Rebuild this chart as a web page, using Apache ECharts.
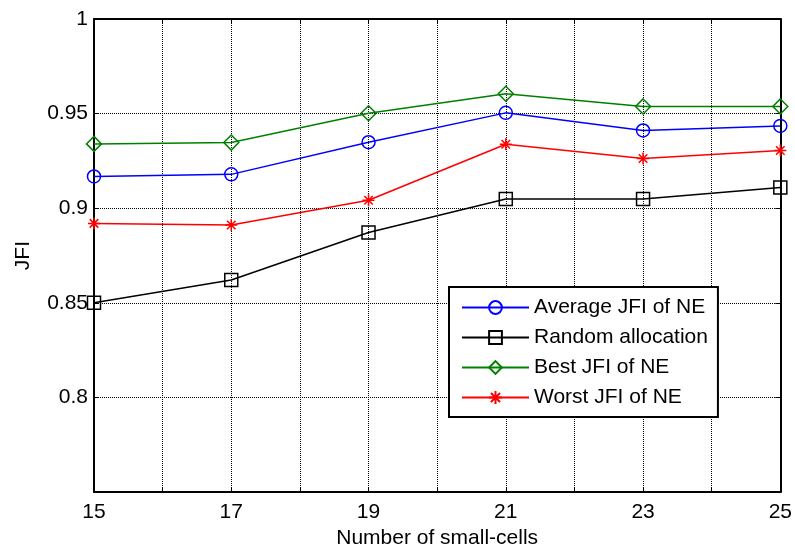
<!DOCTYPE html>
<html>
<head>
<meta charset="utf-8">
<script src="https://cdn.jsdelivr.net/npm/echarts@6/dist/echarts.min.js"></script>
<style>
  html, body { margin: 0; padding: 0; background: #fff; }
  #chart { width: 795px; height: 554px; }
</style>
</head>
<body>
<div id="chart"></div>
<script>
// Number of small-cells on the x axis
const smallCells = [15, 17, 19, 21, 23, 25];
const xTickLabels = [15, 17, 19, 21, 23, 25];
const yTickLabels = [0.8, 0.85, 0.9, 0.95, 1];

// Jain's fairness index per scheme
const averageNE = [0.9168, 0.9179, 0.9349, 0.9504, 0.9411, 0.9435];
const randomAlloc = [0.8500, 0.8621, 0.8872, 0.9049, 0.9049, 0.9110];
const bestNE = [0.9340, 0.9347, 0.9502, 0.9605, 0.9538, 0.9538];
const worstNE = [0.8920, 0.8911, 0.9042, 0.9338, 0.9263, 0.9305];

const FONT = 'Liberation Sans, Arial, sans-serif';
const FS = 21;
const ASTERISK = 'path://M0,-10L0,10M-10,0L10,0M-7.1,-7.1L7.1,7.1M-7.1,7.1L7.1,-7.1';

function pairs(ys) { return smallCells.map((x, i) => [x, ys[i]]); }

function lineSeries(name, ys, color, symbol, size) {
  return {
    name: name,
    type: 'line',
    data: pairs(ys),
    symbol: symbol,
    symbolSize: size,
    showAllSymbol: true,
    lineStyle: { color: color, width: 1.5 },
    itemStyle: { color: 'rgba(255,255,255,0)', borderColor: color, borderWidth: 1.5 },
    emphasis: { disabled: true },
    z: 5
  };
}

const chart = echarts.init(document.getElementById('chart'), null, { renderer: 'canvas' });

const axisLine = { show: true, onZero: false, lineStyle: { color: '#000', width: 2 } };
const tickIn = { show: true, inside: true, length: 5, lineStyle: { color: '#000', width: 1 } };
const grid = { show: true, lineStyle: { color: '#000', width: 1, type: [1, 1] } };

chart.setOption({
  animation: false,
  backgroundColor: '#fff',
  grid: { left: 94, right: 14, top: 19, bottom: 60, containLabel: false },
  xAxis: [{
    type: 'value', min: 15, max: 25, interval: 1, position: 'bottom',
    name: 'Number of small-cells', nameLocation: 'middle', nameGap: 35,
    nameTextStyle: { fontFamily: FONT, fontSize: FS, color: '#000' },
    axisLine: axisLine, axisTick: tickIn, splitLine: grid,
    axisLabel: {
      fontFamily: FONT, fontSize: FS, color: '#000', margin: 10,
      formatter: v => xTickLabels.includes(v) ? String(v) : ''
    }
  }, {
    type: 'value', min: 15, max: 25, interval: 1, position: 'top',
    axisLine: axisLine, axisTick: tickIn, splitLine: { show: false },
    axisLabel: { show: false }
  }],
  yAxis: [{
    type: 'value', min: 0.75, max: 1, interval: 0.05, position: 'left',
    name: 'JFI', nameLocation: 'middle', nameGap: 60,
    nameTextStyle: { fontFamily: FONT, fontSize: FS, color: '#000' },
    axisLine: axisLine, axisTick: tickIn, splitLine: grid,
    axisLabel: {
      fontFamily: FONT, fontSize: FS, color: '#000', margin: 6,
      formatter: v => {
        const hit = yTickLabels.find(t => Math.abs(t - v) < 1e-9);
        return hit === undefined ? '' : String(hit);
      }
    }
  }, {
    type: 'value', min: 0.75, max: 1, interval: 0.05, position: 'right',
    axisLine: axisLine, axisTick: tickIn, splitLine: { show: false },
    axisLabel: { show: false }
  }],
  legend: {
    orient: 'vertical', left: 449, top: 287,
    padding: [10, 10, 9, 12],
    itemWidth: 67, itemHeight: 16, itemGap: 9,
    backgroundColor: '#fff', borderColor: '#000', borderWidth: 2,
    textStyle: { fontFamily: FONT, fontSize: FS, color: '#000' },
    data: ['Average JFI of NE', 'Random allocation', 'Best JFI of NE', 'Worst JFI of NE']
  },
  series: [
    lineSeries('Average JFI of NE', averageNE, '#0000ff', 'circle', 13),
    lineSeries('Random allocation', randomAlloc, '#000000', 'rect', 13),
    lineSeries('Best JFI of NE', bestNE, '#008000', 'diamond', 15),
    lineSeries('Worst JFI of NE', worstNE, '#ff0000', ASTERISK, 12)
  ]
});
</script>
</body>
</html>
